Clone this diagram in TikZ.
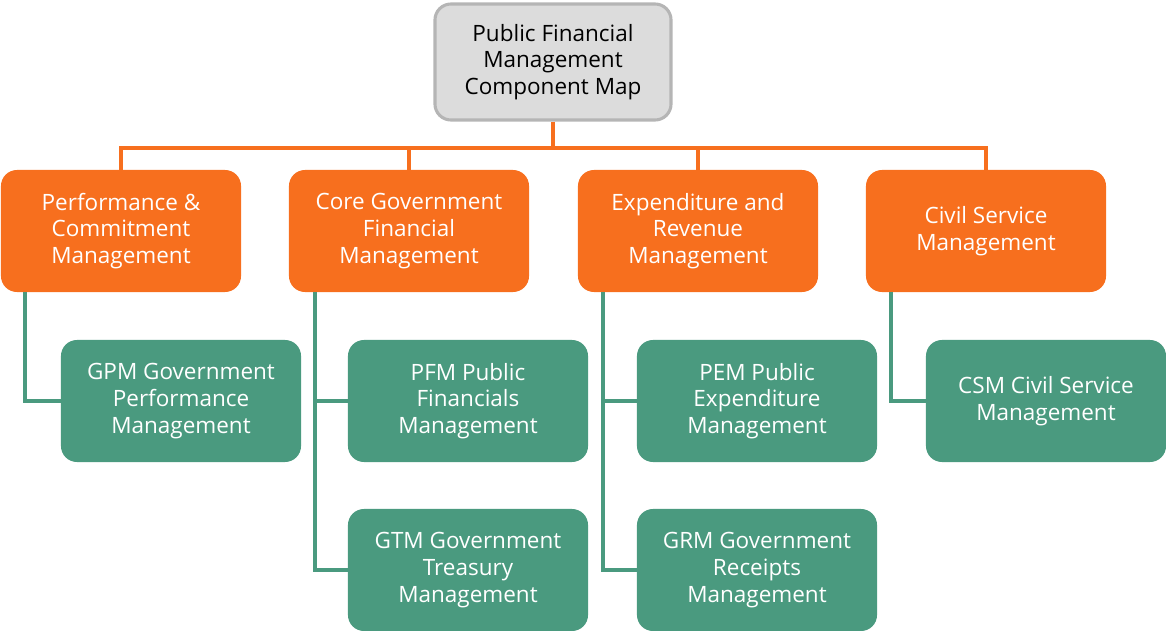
\documentclass[tikz,border=0pt]{standalone}
\usepackage{fontspec}
\setmainfont{Open Sans}
\definecolor{org}{HTML}{F76F1E}
\definecolor{grn}{HTML}{4A9A7F}
\definecolor{gbg}{HTML}{DCDCDC}
\definecolor{gbd}{HTML}{B5B5B5}
\begin{document}
\begin{tikzpicture}[x=0.025cm,y=-0.025cm,
  box/.style={minimum width=6cm,minimum height=3.05cm,rounded corners=0.4cm,align=center,
    font=\fontsize{16}{19}\selectfont,text=white,inner sep=2pt},
  ob/.style={box,fill=org},
  gb/.style={box,fill=grn},
  ol/.style={draw=org,line width=2.2pt},
  gl/.style={draw=grn,line width=2.2pt}]
\useasboundingbox (0,0) rectangle (1166,631);
\node[box,fill=gbg,draw=gbd,line width=2.2pt,text=black,minimum width=5.9cm,minimum height=2.9cm] (root) at (553,62) {Public Financial\\Management\\Component Map};
\node[ob] (o1) at (121,231) {Performance \&\\Commitment\\Management};
\node[ob] (o2) at (409,231) {Core Government\\Financial\\Management};
\node[ob] (o3) at (698,231) {Expenditure and\\Revenue\\Management};
\node[ob] (o4) at (986,231) {Civil Service\\Management};
\node[gb] (g1) at (181,401) {GPM Government\\Performance\\Management};
\node[gb] (g2) at (468,401) {PFM Public\\Financials\\Management};
\node[gb] (g3) at (757,401) {PEM Public\\Expenditure\\Management};
\node[gb] (g4) at (1046,401) {CSM Civil Service\\Management};
\node[gb] (g5) at (468,570) {GTM Government\\Treasury\\Management};
\node[gb] (g6) at (757,570) {GRM Government\\Receipts\\Management};
\coordinate (bus) at (553,148);
\draw[ol] (root.south) -- (bus);
\foreach \o in {o1,o2,o3,o4} \draw[ol] (bus) -| (\o.north);
\draw[gl] (o1.south -| 25,0) |- (g1.west);
\draw[gl] (o2.south -| 315,0) |- (g5.west);
\draw[gl] (315,401) -- (g2.west);
\draw[gl] (o3.south -| 603,0) |- (g6.west);
\draw[gl] (603,401) -- (g3.west);
\draw[gl] (o4.south -| 891,0) |- (g4.west);
\end{tikzpicture}
\end{document}
